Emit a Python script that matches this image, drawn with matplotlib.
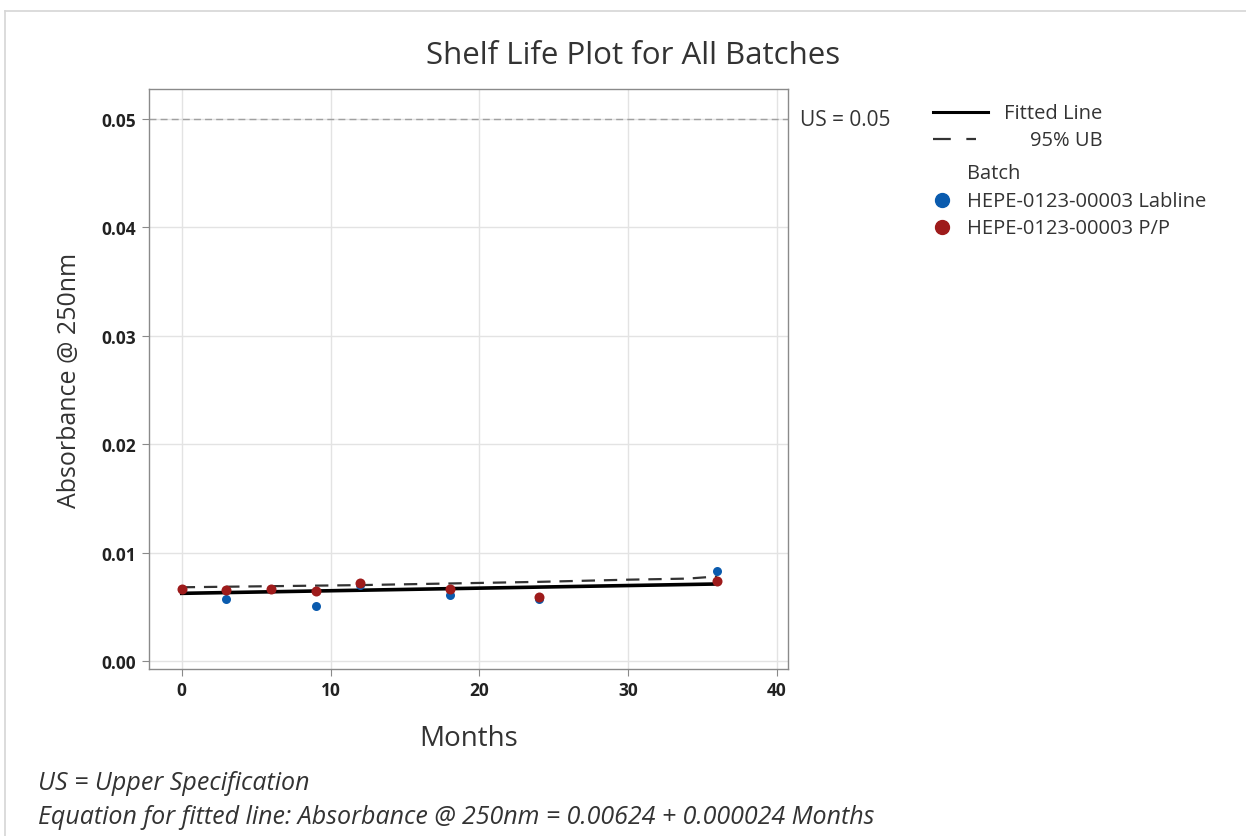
import matplotlib
matplotlib.use("Agg")
import matplotlib.pyplot as plt
from matplotlib.lines import Line2D
import numpy as np

plt.rcParams['font.family'] = ['Open Sans', 'DejaVu Sans']

# Data
months = [0, 3, 6, 9, 12, 18, 24, 36]
lab_values = [0.0066, 0.00572, 0.0066, 0.00507, 0.0070, 0.00609, 0.00572, 0.0083]
pp_values = [0.00664, 0.00655, 0.00664, 0.00646, 0.0072, 0.00664, 0.0059, 0.0074]
fit_intercept = 0.00624
fit_slope = 0.000024
ub_months = [0, 6, 12, 18, 24, 30, 34, 36]
ub_values = [0.0068, 0.0069, 0.0070, 0.00715, 0.0073, 0.0075, 0.0076, 0.0078]
us_value = 0.05
batch_names = ["HEPE-0123-00003 Labline", "HEPE-0123-00003 P/P"]
x_ticks = [0, 10, 20, 30, 40]
y_ticks = [0.00, 0.01, 0.02, 0.03, 0.04, 0.05]

blue = '#0A5BAE'
red = '#9E1B1B'

W, H = 1246, 837
fig = plt.figure(figsize=(W/100, H/100), dpi=100)

def fx(px):
    return px / W

def fy(py):
    return 1 - py / H

# outer border (top and left only)
fig.add_artist(Line2D([fx(5), fx(1246)], [fy(12), fy(12)], color='#d6d6d6',
                      linewidth=1.2, transform=fig.transFigure))
fig.add_artist(Line2D([fx(5), fx(5)], [fy(12), fy(837)], color='#d6d6d6',
                      linewidth=1.2, transform=fig.transFigure))

ax = fig.add_axes([fx(149), fy(670), fx(788) - fx(149), fy(90) - fy(670)])
ax.set_xlim(-2.2, 40.75)
ax.set_ylim(-0.00074, 0.05277)

ax.set_xticks(x_ticks)
ax.set_yticks(y_ticks)
ax.set_xticklabels([str(t) for t in x_ticks])
ax.set_yticklabels([f"{t:.2f}" for t in y_ticks])
ax.grid(True, color='#e3e3e3', linewidth=1.0)
ax.set_axisbelow(True)
for s in ax.spines.values():
    s.set_color('#8a8a8a')
    s.set_linewidth(1.0)
ax.tick_params(axis='both', direction='out', length=5, color='#8a8a8a',
               labelsize=12.5, labelcolor='#222222', pad=4)
for lab in ax.get_xticklabels() + ax.get_yticklabels():
    lab.set_fontweight('bold')

# US line
ax.axhline(us_value, color='#a0a0a0', linestyle=(0, (5, 3)), linewidth=1.0, zorder=1)

# fitted line and upper bound
xf = np.array([0, 36])
ax.plot(xf, fit_intercept + fit_slope * xf, color='black', linewidth=2.6, zorder=3)
ax.plot(ub_months, ub_values, color='#333333', linewidth=1.6,
        linestyle=(0, (6, 4)), zorder=3)

ax.scatter(months, lab_values, s=42, color=blue, zorder=4, linewidths=0)
ax.scatter(months, pp_values, s=52, color=red, zorder=5, linewidths=0)

ax.set_xlabel("Months", fontsize=20, color='#333333', labelpad=18)
ax.set_ylabel("Absorbance @ 250nm", fontsize=18, color='#333333', labelpad=14)

fig.text(fx(633), fy(56), "Shelf Life Plot for All Batches", fontsize=22.5,
         color='#333333', ha='center', va='center')

fig.text(fx(800), fy(120), "US = 0.05", fontsize=15, color='#333333',
         ha='left', va='center')

# legend
fig.add_artist(Line2D([fx(933), fx(988)], [fy(113), fy(113)], color='black',
                      linewidth=2.2, transform=fig.transFigure))
fig.text(fx(1004), fy(114), "Fitted Line", fontsize=14.5, color='#333333', va='center')
fig.add_artist(Line2D([fx(933), fx(976)], [fy(140), fy(140)], color='#333333',
                      linewidth=1.6, linestyle=(0, (8, 7)), transform=fig.transFigure))
fig.text(fx(1030), fy(141), "95% UB", fontsize=14.5, color='#333333', va='center')
fig.text(fx(967), fy(174), "Batch", fontsize=14.5, color='#333333', va='center')
for i, (nm, c) in enumerate(zip(batch_names, [blue, red])):
    yy = 201 + 27 * i
    fig.add_artist(Line2D([fx(942)], [fy(yy)], marker='o', markersize=10,
                          color=c, linestyle='none', transform=fig.transFigure))
    fig.text(fx(967), fy(yy + 1), nm, fontsize=14.5, color='#333333', va='center')

fig.text(fx(38), fy(784), "US = Upper Specification", fontsize=18, style='italic',
         color='#333333', va='center')
fig.text(fx(38), fy(818),
         "Equation for fitted line: Absorbance @ 250nm = 0.00624 + 0.000024 Months",
         fontsize=18, style='italic', color='#333333', va='center')

fig.savefig("out.png", dpi=100)
